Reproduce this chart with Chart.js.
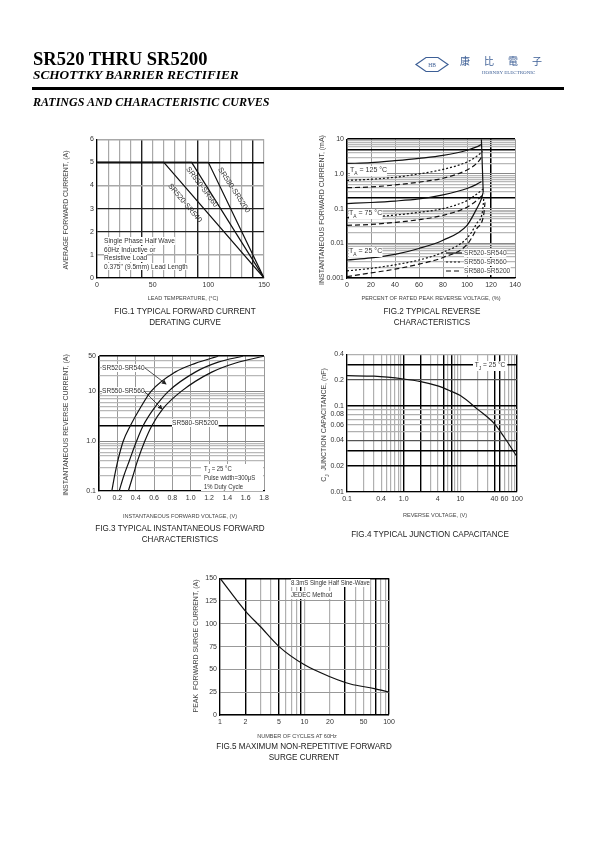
<!DOCTYPE html>
<html><head><meta charset="utf-8">
<script src="https://cdn.jsdelivr.net/npm/chart.js@4.4.0/dist/chart.umd.min.js"></script>
<style>
body{margin:0;background:#fff;width:595px;height:842px;position:relative;overflow:hidden;font-family:'Liberation Sans',Arial,sans-serif;color:#222}
canvas{position:absolute;z-index:1}
.t{position:absolute;white-space:nowrap;line-height:1;z-index:3}
.w{background:#fff}
.n{transform:scaleX(0.88);transform-origin:left center}
.c{text-align:center;width:300px;transform:scaleX(0.9);transform-origin:center}
.r{transform:translate(-50%,-50%) rotate(-90deg) scaleX(0.87);transform-origin:center}
.serif{font-family:'Liberation Serif','Times New Roman',serif;color:#000;font-weight:bold}
sub{font-size:5.5px}
</style></head><body>

<script>
// ---------------- DATA ----------------
// Fig.1 forward current derating
const f1Temp520 = [0, 60, 150];   const f1Amp520 = [5, 5, 0];
const f1Temp550 = [0, 85, 150];   const f1Amp550 = [5, 5, 0];
const f1Temp580 = [0, 100, 150];  const f1Amp580 = [5, 5, 0];
const f1XTicks = [0, 50, 100, 150];
const f1YTicks = [0, 1, 2, 3, 4, 5, 6];

// Fig.2 reverse characteristics (x = % rated voltage, y = mA)
const f2X125s = [0, 20, 40, 60, 80, 100, 108, 112];
const f2Y125s = [2.0, 2.1, 2.4, 2.8, 3.4, 4.8, 6.0, 7.0];
const f2X125d = [0, 20, 40, 60, 80, 100, 108, 113];
const f2Y125d = [0.65, 0.7, 0.8, 1.0, 1.35, 2.2, 3.2, 4.4];
const f2X125l = [0, 20, 40, 60, 80, 100, 108, 113];
const f2Y125l = [0.4, 0.42, 0.48, 0.58, 0.75, 1.3, 2.0, 3.3];
const f2XBreak = [112, 113.5];
const f2YBreak = [10, 0.3];
const f2X75s = [0, 20, 40, 60, 80, 100, 108, 112];
const f2Y75s = [0.14, 0.15, 0.165, 0.19, 0.25, 0.38, 0.5, 0.6];
const f2X75d = [0, 20, 40, 60, 80, 100, 108, 114];
const f2Y75d = [0.055, 0.058, 0.065, 0.078, 0.1, 0.17, 0.26, 0.38];
const f2X75l = [0, 20, 40, 60, 80, 100, 108, 114.5];
const f2Y75l = [0.033, 0.035, 0.04, 0.048, 0.064, 0.11, 0.17, 0.27];
const f2X25s = [0, 20, 40, 60, 80, 100, 108, 112, 113.5];
const f2Y25s = [0.0033, 0.0038, 0.0048, 0.0071, 0.0123, 0.033, 0.098, 0.19, 0.3];
const f2X25d = [0, 20, 40, 60, 80, 100, 108, 113, 114];
const f2Y25d = [0.0016, 0.0019, 0.0024, 0.0033, 0.0055, 0.014, 0.037, 0.087, 0.2];
const f2X25l = [0, 20, 40, 60, 80, 100, 108, 114, 115];
const f2Y25l = [0.0011, 0.0014, 0.0018, 0.0025, 0.0039, 0.0092, 0.026, 0.07, 0.15];
const f2XTicks = [0, 20, 40, 60, 80, 100, 120, 140];
const f2YTicks = [0.001, 0.01, 0.1, 1, 10];
const f2YTickText = ['0.001', '0.01', '0.1', '1.0', '10'];

// Fig.3 instantaneous forward characteristics (x = V, y = A)
const f3V520 = [0.14, 0.17, 0.205, 0.265, 0.34, 0.45, 0.57, 0.83, 1.05, 1.3];
const f3A520 = [0.1, 0.2, 0.4, 1.0, 2, 4.6, 10, 24, 36, 50];
const f3V550 = [0.22, 0.27, 0.33, 0.41, 0.48, 0.6, 0.76, 1.05, 1.3, 1.57];
const f3A550 = [0.1, 0.2, 0.4, 1.0, 2, 4.5, 10, 24, 38, 50];
const f3V580 = [0.32, 0.37, 0.42, 0.5, 0.575, 0.7, 0.9, 1.23, 1.5, 1.8];
const f3A580 = [0.1, 0.2, 0.4, 1.0, 2, 4.5, 10, 24, 37, 50];
const f3XTicks = [0, 0.2, 0.4, 0.6, 0.8, 1.0, 1.2, 1.4, 1.6, 1.8];
const f3XTickText = ['0', '0.2', '0.4', '0.6', '0.8', '1.0', '1.2', '1.4', '1.6', '1.8'];
const f3YTicks = [0.1, 1, 10, 50];
const f3YTickText = ['0.1', '1.0', '10', '50'];

// Fig.4 junction capacitance (x = V, y = nF)
const f4Volt = [0.1, 0.3, 1, 2, 4, 6.6, 10, 20, 40, 60, 100];
const f4Cap  = [0.225, 0.222, 0.206, 0.192, 0.171, 0.15, 0.132, 0.092, 0.062, 0.043, 0.0257];
const f4XTicks = [0.1, 0.4, 1, 4, 10, 40, 60, 100];
const f4XTickText = ['0.1', '0.4', '1.0', '4', '10', '40', '60', '100'];
const f4YTicks = [0.01, 0.02, 0.04, 0.06, 0.08, 0.1, 0.2, 0.4];
const f4YTickText = ['0.01', '0.02', '0.04', '0.06', '0.08', '0.1', '0.2', '0.4'];

// Fig.5 surge current (x = cycles, y = A)
const f5Cycles  = [1, 2, 3, 5, 10, 20, 35, 67, 100];
const f5Current = [150, 114, 97, 75, 55, 42, 34, 29, 25];
const f5XTicks = [1, 2, 5, 10, 20, 50, 100];
const f5YTicks = [0, 25, 50, 75, 100, 125, 150];

// ---------------- HELPERS ----------------
const FONT = "'Liberation Sans',Arial,sans-serif";
function pts(xs, ys) { return xs.map((x, i) => ({ x: x, y: ys[i] })); }
function range(a, b, s) { const o = []; for (let v = a; v <= b + 1e-9; v += s) o.push(+v.toFixed(6)); return o; }
function logGrid(min, max) {
  const o = [];
  for (let e = Math.floor(Math.log10(min)); e <= Math.ceil(Math.log10(max)); e++)
    for (let m = 1; m < 10; m++) { const v = +(m * Math.pow(10, e)).toPrecision(6); if (v >= min * 0.9999 && v <= max * 1.0001) o.push(v); }
  return o;
}
function near(a, b) { return Math.abs(a - b) <= Math.abs(b) * 1e-6 + 1e-12; }
function inList(v, list) { return list.some(L => near(v, L)); }

function axis(o, pos, size) {
  const text = o.text || o.labels.map(String);
  return {
    type: o.type || 'linear', position: pos, min: o.min, max: o.max,
    afterBuildTicks: s => { s.ticks = o.grid.map(v => ({ value: v })); },
    afterFit: s => { if (pos === 'left') s.width = size; else s.height = size; },
    ticks: {
      autoSkip: false, maxRotation: 0, minRotation: 0, padding: 3, color: '#333',
      font: { family: FONT, size: 7 },
      callback: v => { const i = o.labels.findIndex(L => near(v, L)); return i >= 0 ? text[i] : ''; }
    },
    grid: {
      drawTicks: false,
      color: c => c.tick ? o.style(c.tick.value)[0] : '#999',
      lineWidth: c => c.tick ? o.style(c.tick.value)[1] : 1
    },
    border: { display: true, color: '#000', width: 1.3 }
  };
}
function ds(xs, ys, dash, tension) {
  return { data: pts(xs, ys), showLine: true, borderColor: '#111', borderWidth: 1.2, borderDash: dash || [],
    pointRadius: 0, fill: false, tension: tension ? 0.4 : 0, cubicInterpolationMode: tension ? 'monotone' : 'default' };
}
function make(plot, datasets, xa, ya) {
  const YW = 30, XH = 16, PT = 6, PR = 12;
  const cv = document.createElement('canvas');
  const W = plot.w + YW + PR, H = plot.h + PT + XH;
  cv.width = W; cv.height = H; cv.style.width = W + 'px'; cv.style.height = H + 'px';
  cv.style.left = (plot.l - YW) + 'px'; cv.style.top = (plot.t - PT) + 'px';
  document.body.appendChild(cv);
  const ch = new Chart(cv, {
    type: 'scatter', data: { datasets: datasets },
    options: {
      responsive: false, animation: false, devicePixelRatio: 1,
      layout: { padding: { top: PT, right: PR, left: 0, bottom: 0 } },
      plugins: { legend: { display: false }, tooltip: { enabled: false } },
      scales: { x: axis(xa, 'bottom', XH), y: axis(ya, 'left', YW) }
    }
  });
  const a = ch.chartArea;
  cv.style.left = (plot.l - a.left) + 'px'; cv.style.top = (plot.t - a.top) + 'px';
  return ch;
}
const G = '#a8a8a8', D = '#222';

// ---------------- FIG 1 ----------------
make({ l: 97, t: 139, w: 167, h: 140 },
  [ds(f1Temp520, f1Amp520), ds(f1Temp550, f1Amp550), ds(f1Temp580, f1Amp580)],
  { min: 0, max: 150, grid: range(0, 150, 10), labels: f1XTicks,
    style: v => inList(v, [40, 90, 140]) ? [D, 1.4] : [G, 1.2] },
  { min: 0, max: 6, grid: f1YTicks, labels: f1YTicks,
    style: v => v === 5 ? ['#000', 1.4] : (v === 2 || v === 3) ? [D, 1.3] : [G, 1.4] });

// ---------------- FIG 2 ----------------
make({ l: 347, t: 139, w: 168, h: 140 },
  [ds(f2X125s, f2Y125s, [], 1), ds(f2X125d, f2Y125d, [2, 2], 1), ds(f2X125l, f2Y125l, [5, 3], 1), ds(f2XBreak, f2YBreak),
   ds(f2X75s, f2Y75s, [], 1), ds(f2X75d, f2Y75d, [2, 2], 1), ds(f2X75l, f2Y75l, [5, 3], 1),
   ds(f2X25s, f2Y25s, [], 1), ds(f2X25d, f2Y25d, [2, 2], 1), ds(f2X25l, f2Y25l, [5, 3], 1)],
  { min: 0, max: 140, grid: f2XTicks, labels: f2XTicks,
    style: v => v === 120 ? ['#000', 1.5] : ['#999', 1] },
  { type: 'logarithmic', min: 0.001, max: 10, grid: logGrid(0.001, 10), labels: f2YTicks, text: f2YTickText,
    style: v => inList(v, [5, 0.2, 10]) ? ['#000', 1.5] : inList(v, [0.001, 0.01, 0.1, 1]) ? ['#888', 1] : ['#b8b8b8', 1.3] });

// ---------------- FIG 3 ----------------
make({ l: 99, t: 356, w: 165, h: 136 },
  [ds(f3V520, f3A520, [], 1), ds(f3V550, f3A550, [], 1), ds(f3V580, f3A580, [], 1)],
  { min: 0, max: 1.8, grid: f3XTicks, labels: f3XTicks, text: f3XTickText,
    style: v => ['#999', 1] },
  { type: 'logarithmic', min: 0.1, max: 50, grid: logGrid(0.1, 50), labels: f3YTicks, text: f3YTickText,
    style: v => inList(v, [2, 50]) ? ['#000', 1.5] : inList(v, [1, 10]) ? ['#888', 1] : ['#b8b8b8', 1.2] });

// ---------------- FIG 4 ----------------
make({ l: 347, t: 354, w: 170, h: 139 },
  [ds(f4Volt, f4Cap, [], 1)],
  { type: 'logarithmic', min: 0.1, max: 100, grid: logGrid(0.1, 100), labels: f4XTicks, text: f4XTickText,
    style: v => inList(v, [1, 2, 5, 7, 40, 50, 100]) ? ['#000', 1.4] : ['#b0b0b0', 1.2] },
  { type: 'logarithmic', min: 0.01, max: 0.4, grid: logGrid(0.01, 0.4), labels: f4YTicks, text: f4YTickText,
    style: v => inList(v, [0.02, 0.03, 0.1, 0.3]) ? ['#000', 1.4] : inList(v, [0.04, 0.2]) ? ['#555', 1.2] : ['#b0b0b0', 1.2] });

// ---------------- FIG 5 ----------------
make({ l: 220, t: 578, w: 169, h: 138 },
  [ds(f5Cycles, f5Current, [], 1)],
  { type: 'logarithmic', min: 1, max: 100, grid: logGrid(1, 100), labels: f5XTicks,
    style: v => inList(v, [2, 5, 9, 30, 70, 100]) ? ['#000', 1.4] : ['#b0b0b0', 1.2] },
  { min: 0, max: 150, grid: f5YTicks, labels: f5YTicks,
    style: v => v === 150 ? ['#000', 1.4] : ['#999', 1] });
</script>

<!-- Header -->
<div class="t serif" style="left:33px;top:50px;font-size:18.5px">SR520 THRU SR5200</div>
<div class="t serif" style="left:33px;top:68px;font-size:13.3px;font-style:italic">SCHOTTKY BARRIER RECTIFIER</div>
<div style="position:absolute;left:32px;top:87px;width:532px;height:2.5px;background:#000"></div>
<div class="t serif" style="left:33px;top:96px;font-size:12px;font-style:italic">RATINGS AND CHARACTERISTIC CURVES</div>
<svg style="position:absolute;left:0;top:0;z-index:2" width="595" height="842">
  <polygon points="416,64.5 426,57.5 438,57.5 448,64.5 438,71.5 426,71.5" fill="none" stroke="#3d5f96" stroke-width="1.2"/>
  <text x="432" y="67" font-size="5.5" fill="#3d5f96" text-anchor="middle" font-family="Liberation Serif">HB</text>
</svg>
<div class="t" style="left:460px;top:56px;font-size:10px;color:#3d5f96;letter-spacing:14px;font-family:'Noto Sans CJK TC'">康比電子</div>
<div class="t" style="left:482px;top:70px;font-size:5px;color:#3d5f96;font-family:'Liberation Serif'">HORNBY ELECTRONIC</div>

<!-- Fig1 texts -->
<div class="t r" style="left:66px;top:210px;font-size:8px;color:#444">AVERAGE FORWARD CURRENT, (A)</div>
<div class="t c" style="left:33px;top:295px;font-size:6.2px;color:#444">LEAD TEMPERATURE, (°C)</div>
<div class="t c" style="left:35px;top:307px;font-size:9px">FIG.1 TYPICAL FORWARD CURRENT</div>
<div class="t c" style="left:35px;top:318px;font-size:9px">DERATING CURVE</div>
<div class="t w n" style="left:104px;top:237px;font-size:7.5px;color:#333">Single Phase Half Wave</div>
<div class="t w n" style="left:104px;top:245.5px;font-size:7.5px;color:#333">60Hz Inductive or</div>
<div class="t w n" style="left:104px;top:254px;font-size:7.5px;color:#333">Resistive Load</div>
<div class="t w n" style="left:104px;top:262.5px;font-size:7.5px;color:#333">0.375" (9.5mm) Lead Length</div>
<div class="t" style="left:185px;top:203px;font-size:7.5px;color:#333;transform:translate(-50%,-50%) rotate(50deg)">SR520-SR540</div>
<div class="t" style="left:202px;top:187px;font-size:7.5px;color:#333;transform:translate(-50%,-50%) rotate(53deg)">SR550-SR560</div>
<div class="t" style="left:234px;top:190px;font-size:7.5px;color:#333;transform:translate(-50%,-50%) rotate(57deg)">SR580-SR5200</div>

<!-- Fig2 texts -->
<div class="t r" style="left:322px;top:210px;font-size:8px;color:#444">INSTANTANEOUS FORWARD CURRENT, (mA)</div>
<div class="t c" style="left:281px;top:295px;font-size:6.2px;color:#444">PERCENT OF RATED PEAK REVERSE VOLTAGE, (%)</div>
<div class="t c" style="left:282px;top:307px;font-size:9px">FIG.2 TYPICAL REVERSE</div>
<div class="t c" style="left:282px;top:318px;font-size:9px">CHARACTERISTICS</div>
<div class="t w n" style="left:350px;top:166px;font-size:8px;color:#333">T<sub>A</sub> = 125 °C</div>
<div class="t w n" style="left:349px;top:209px;font-size:8px;color:#333">T<sub>A</sub> = 75 °C</div>
<div class="t w n" style="left:349px;top:247px;font-size:8px;color:#333">T<sub>A</sub> = 25 °C</div>
<div class="t w n" style="left:464px;top:249px;font-size:7.5px;color:#444">SR520-SR540</div>
<div class="t w n" style="left:464px;top:258px;font-size:7.5px;color:#444">SR550-SR560</div>
<div class="t w n" style="left:464px;top:267px;font-size:7.5px;color:#444">SR580-SR5200</div>

<!-- Fig3 texts -->
<div class="t r" style="left:66px;top:425px;font-size:8px;color:#444">INSTANTANEOUS REVERSE CURRENT, (A)</div>
<div class="t c" style="left:30px;top:513px;font-size:6.2px;color:#444">INSTANTANEOUS FORWARD VOLTAGE, (V)</div>
<div class="t c" style="left:30px;top:524px;font-size:9px">FIG.3 TYPICAL INSTANTANEOUS FORWARD</div>
<div class="t c" style="left:30px;top:535px;font-size:9px">CHARACTERISTICS</div>
<div class="t w n" style="left:102px;top:364px;font-size:7.5px;color:#333">SR520-SR540</div>
<div class="t w n" style="left:102px;top:387px;font-size:7.5px;color:#333">SR550-SR560</div>
<div class="t w n" style="left:172px;top:419px;font-size:7.5px;color:#333">SR580-SR5200</div>
<div class="t w" style="left:201px;top:464px;width:62px;height:27px;"></div>
<div class="t" style="left:204px;top:465px;font-size:7px;color:#333;transform:scaleX(0.85);transform-origin:left">T<sub>J</sub> = 25 °C</div>
<div class="t" style="left:204px;top:474px;font-size:7px;color:#333;transform:scaleX(0.85);transform-origin:left">Pulse width=300μS</div>
<div class="t" style="left:204px;top:482.5px;font-size:7px;color:#333;transform:scaleX(0.85);transform-origin:left">1% Duty Cycle</div>

<!-- Fig4 texts -->
<div class="t r" style="left:325px;top:425px;font-size:8px;color:#444">C<sub>J</sub>&nbsp; JUNCTION CAPACITANCE, (nF)</div>
<div class="t c" style="left:285px;top:512px;font-size:6.2px;color:#444">REVERSE VOLTAGE, (V)</div>
<div class="t c" style="left:280px;top:530px;font-size:9px">FIG.4 TYPICAL JUNCTION CAPACITANCE</div>
<div class="t w n" style="left:473px;top:361px;font-size:7.5px;color:#333;padding:0 2px">T<sub>J</sub> = 25 °C</div>

<!-- Fig5 texts -->
<div class="t r" style="left:196px;top:646px;font-size:8px;color:#444">PEAK&nbsp; FORWARD SURGE CURRENT, (A)</div>
<div class="t c" style="left:147px;top:733px;font-size:6.2px;color:#444">NUMBER OF CYCLES AT 60Hz</div>
<div class="t c" style="left:154px;top:742px;font-size:9px">FIG.5 MAXIMUM NON-REPETITIVE FORWARD</div>
<div class="t c" style="left:154px;top:753px;font-size:9px">SURGE CURRENT</div>
<div class="t w" style="left:291px;top:579px;font-size:7.5px;color:#333;transform:scaleX(0.8);transform-origin:left">8.3mS Single Half Sine-Wave</div>
<div class="t w" style="left:291px;top:591px;font-size:7.5px;color:#333;transform:scaleX(0.8);transform-origin:left">JEDEC Method</div>

<!-- arrows & legend samples -->
<svg style="position:absolute;left:0;top:0;z-index:4" width="595" height="842">
  <defs><marker id="ah" markerWidth="6" markerHeight="6" refX="5" refY="3" orient="auto"><path d="M0,0 L6,3 L0,6 z" fill="#222"/></marker></defs>
  <line x1="145" y1="368" x2="166" y2="384" stroke="#222" stroke-width="0.8" marker-end="url(#ah)"/>
  <line x1="144" y1="391" x2="162" y2="409" stroke="#222" stroke-width="0.8" marker-end="url(#ah)"/>
  <line x1="446" y1="253" x2="462" y2="253" stroke="#111" stroke-width="1.2"/>
  <line x1="446" y1="262" x2="462" y2="262" stroke="#111" stroke-width="1.2" stroke-dasharray="2,2"/>
  <line x1="446" y1="271" x2="462" y2="271" stroke="#111" stroke-width="1.2" stroke-dasharray="5,3"/>
</svg>
</body></html>
